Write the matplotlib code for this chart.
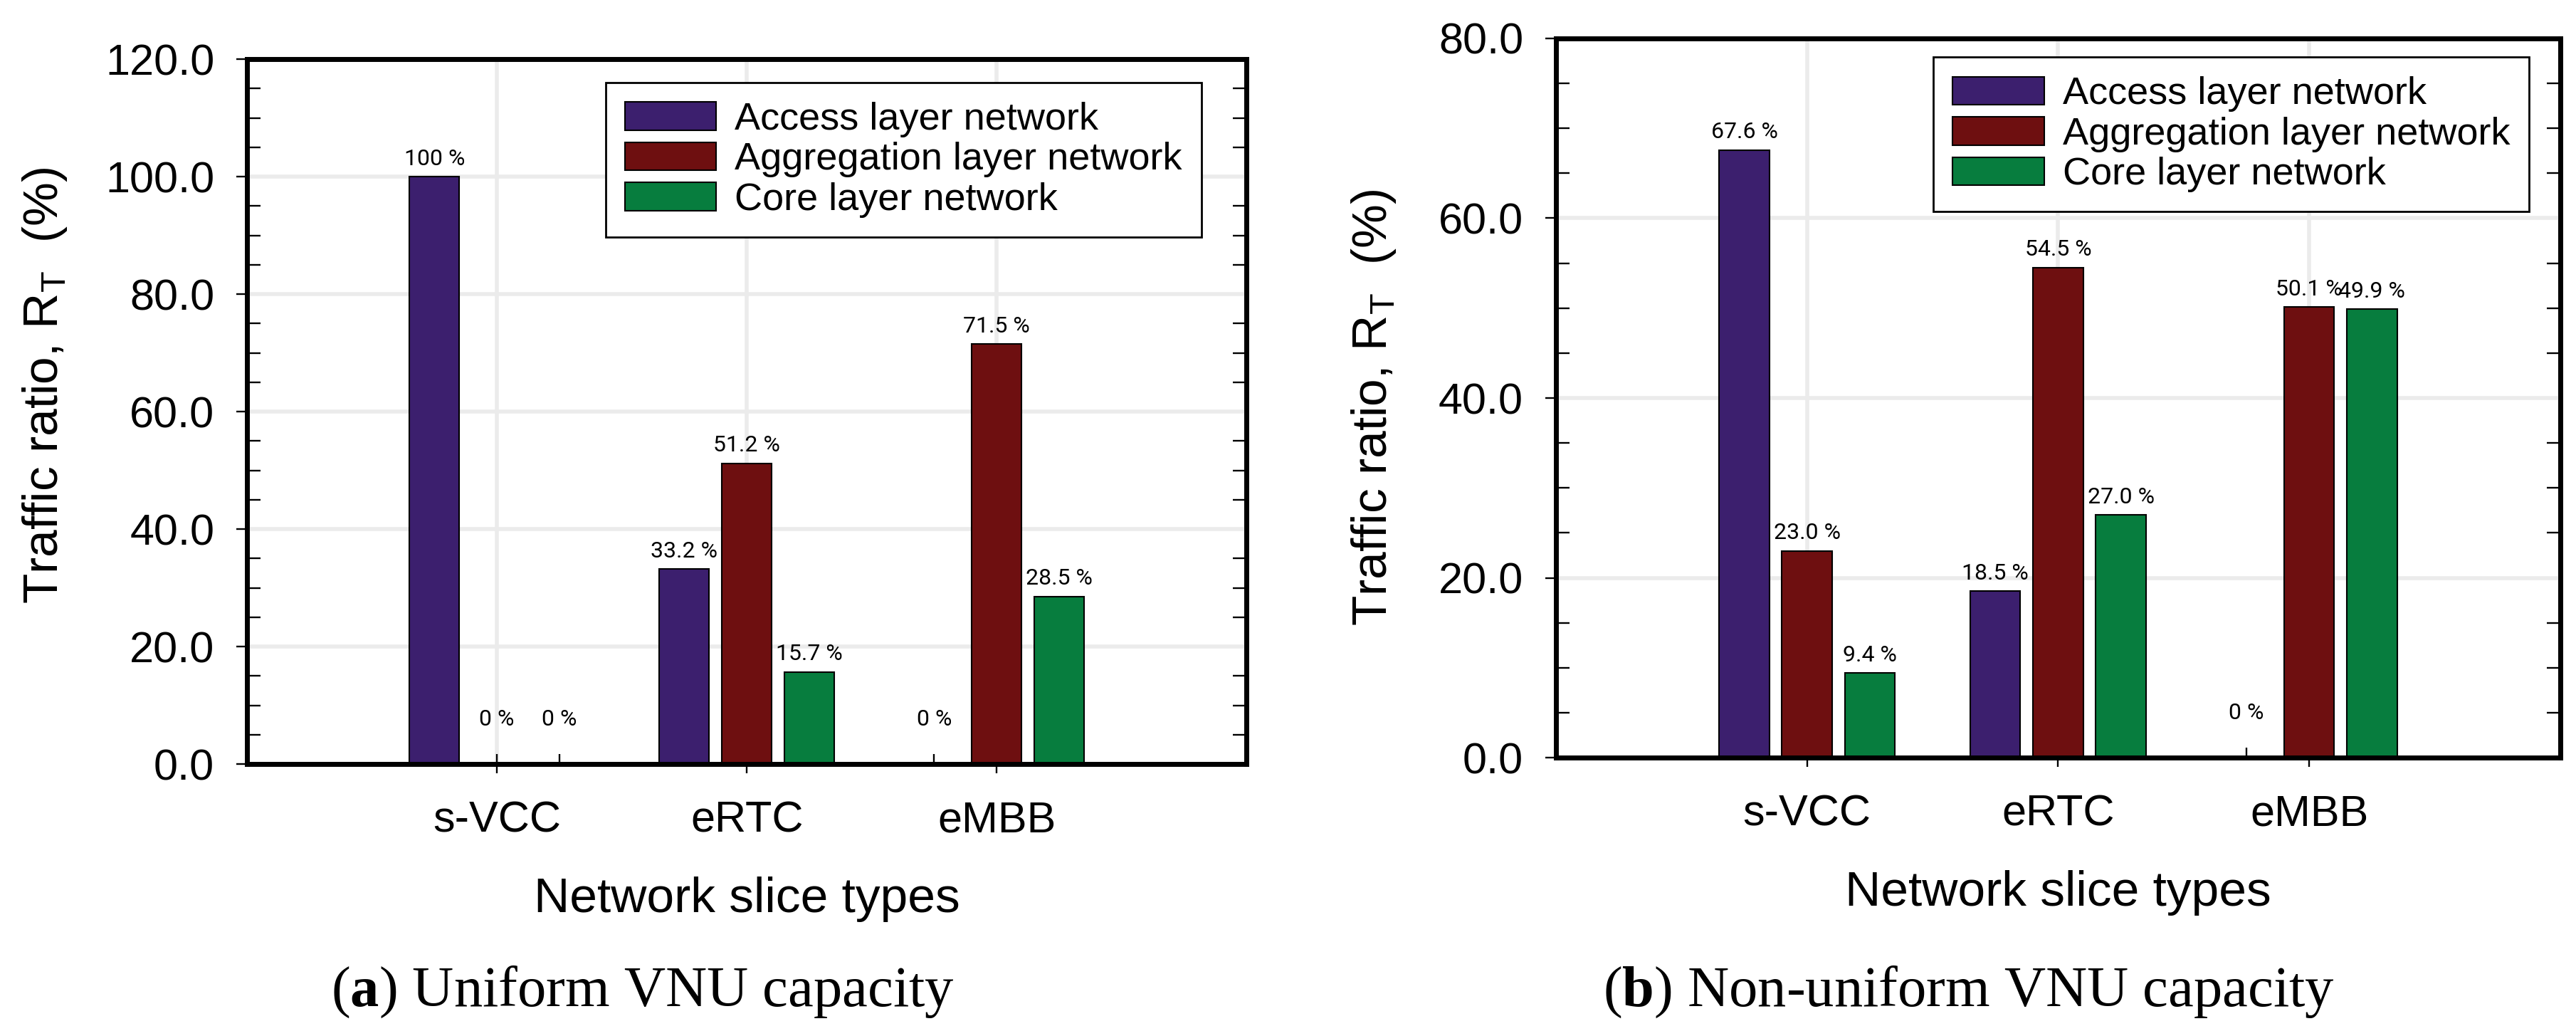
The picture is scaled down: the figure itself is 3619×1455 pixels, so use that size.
import numpy as np
import matplotlib.pyplot as plt
from matplotlib.ticker import MultipleLocator, FormatStrFormatter

plt.rcParams['font.family'] = 'Liberation Sans'
plt.rcParams['mathtext.fontset'] = 'custom'
plt.rcParams['mathtext.rm'] = 'Liberation Sans'
plt.rcParams['mathtext.bf'] = 'Liberation Serif:bold'

slices = ['s-VCC', 'eRTC', 'eMBB']
layers = ['Access layer network', 'Aggregation layer network', 'Core layer network']
colors = ['#3c1f6e', '#6e0f10', '#077d3e']

# (a) uniform VNU capacity
uni_access = [100, 33.2, 0]
uni_aggr = [0, 51.2, 71.5]
uni_core = [0, 15.7, 28.5]
uni_labels = [['100 %', '33.2 %', '0 %'],
              ['0 %', '51.2 %', '71.5 %'],
              ['0 %', '15.7 %', '28.5 %']]

# (b) non-uniform VNU capacity
non_access = [67.6, 18.5, 0]
non_aggr = [23.0, 54.5, 50.1]
non_core = [9.4, 27.0, 49.9]
non_labels = [['67.6 %', '18.5 %', '0 %'],
              ['23.0 %', '54.5 %', '50.1 %'],
              ['9.4 %', '27.0 %', '49.9 %']]


def draw_panel(ax, series, labels, ymax, leg_anchor, ylab_pos):
    x = np.arange(len(slices))
    offsets = [-0.25, 0, 0.25]
    for vals, labs, off, col, name in zip(series, labels, offsets, colors, layers):
        bars = ax.bar(x + off, vals, width=0.2, color=col, edgecolor='black',
                      linewidth=1.5, label=name)
        for b, lab in zip(bars, labs):
            h = b.get_height()
            ax.annotate(lab, (b.get_x() + b.get_width() / 2, h),
                        xytext=(0, 18 if h > 0 else 45), textcoords='offset points',
                        ha='center', va='center', fontsize=23, family='Roboto')

    ax.set_xlim(-1, 3)
    ax.set_ylim(0, ymax)
    ax.set_axisbelow(True)
    ax.grid(True, which='major', color='#ebebeb', linewidth=4)

    ax.set_xticks(x)
    ax.set_xticklabels(slices)
    ax.set_xticks(np.concatenate([x + o for o in offsets]), minor=True)
    ax.xaxis.remove_overlapping_locs = False
    ax.tick_params(axis='x', which='major', direction='out', length=9, width=1.7,
                   labelsize=44, pad=28)
    ax.tick_params(axis='x', which='minor', direction='in', length=10, width=1.7)

    ax.yaxis.set_major_locator(MultipleLocator(20))
    ax.yaxis.set_minor_locator(MultipleLocator(5))
    ax.yaxis.set_major_formatter(FormatStrFormatter('%.1f'))
    ax.tick_params(axis='y', which='major', direction='out', length=11, width=1.7,
                   labelsize=44, pad=22)
    ax.tick_params(axis='y', which='minor', direction='in', length=14, width=1.7)

    right = ax.secondary_yaxis('right')
    right.yaxis.set_major_locator(MultipleLocator(20))
    right.yaxis.set_minor_locator(MultipleLocator(5))
    right.tick_params(which='both', direction='in', length=14, width=1.7,
                      labelright=False)
    right.spines['right'].set_linewidth(5)

    for s in ax.spines.values():
        s.set_linewidth(5)

    ax.set_xlabel('Network slice types', fontsize=50, labelpad=36)
    ax.text(ylab_pos[0], ylab_pos[1], r'Traffic ratio, R$_\mathregular{T}$  (%)',
            transform=ax.transAxes, rotation=90, ha='center', va='center',
            fontsize=50)

    leg = ax.legend(loc='upper right', bbox_to_anchor=leg_anchor, borderaxespad=0,
                    fontsize=39, frameon=True, fancybox=False, framealpha=1,
                    edgecolor='black', handlelength=2.37, handleheight=0.74,
                    handletextpad=0.48, labelspacing=0.12, borderpad=0.5)
    leg.get_frame().set_linewidth(2)


fig = plt.figure(figsize=(36.19, 14.55), dpi=100)
ax1 = fig.add_axes([0.0959, 0.2625, 0.388, 0.6804])
ax2 = fig.add_axes([0.6040, 0.2687, 0.3899, 0.6942])

draw_panel(ax1, [uni_access, uni_aggr, uni_core], uni_labels, 120,
           (0.955, 0.967), (-0.202, 0.537))
draw_panel(ax2, [non_access, non_aggr, non_core], non_labels, 80,
           (0.969, 0.974), (-0.181, 0.487))

fig.text(0.2495, 0.0289, r'($\mathbf{a}$) Uniform VNU capacity', ha='center',
         va='baseline', fontsize=58, family='Liberation Serif')
fig.text(0.7643, 0.0289, r'($\mathbf{b}$) Non-uniform VNU capacity', ha='center',
         va='baseline', fontsize=58, family='Liberation Serif')

fig.savefig('out.png', dpi=100)
